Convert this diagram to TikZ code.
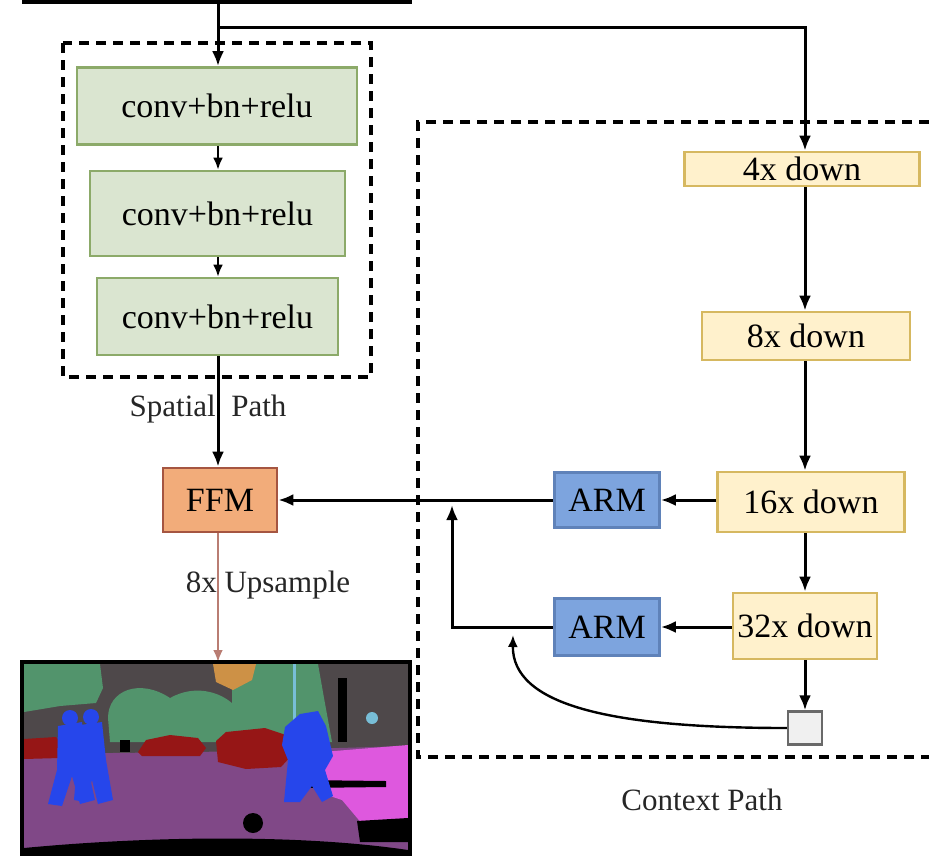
\documentclass[tikz,border=0pt]{standalone}
\usepackage{fontspec}
\setmainfont{LiberationSerif}[Extension=.ttf, UprightFont=*-Regular, BoldFont=*-Bold]
\usetikzlibrary{arrows.meta}

\definecolor{convfill}{RGB}{218,229,208}
\definecolor{convline}{RGB}{140,170,105}
\definecolor{downfill}{RGB}{255,241,204}
\definecolor{downline}{RGB}{214,184,96}
\definecolor{armfill}{RGB}{125,164,222}
\definecolor{armline}{RGB}{95,130,185}
\definecolor{ffmfill}{RGB}{242,172,122}
\definecolor{ffmline}{RGB}{165,85,65}
\definecolor{upline}{RGB}{185,125,115}
\definecolor{poolfill}{RGB}{240,240,240}
\definecolor{poolline}{RGB}{105,105,105}
% label colours of the segmentation map
\definecolor{segsky}{RGB}{78,72,74}
\definecolor{segtree}{RGB}{82,148,108}
\definecolor{segsun}{RGB}{205,145,70}
\definecolor{segroad}{RGB}{128,72,135}
\definecolor{segwalk}{RGB}{222,88,222}
\definecolor{segcar}{RGB}{150,22,22}
\definecolor{segman}{RGB}{38,70,235}
\definecolor{segpole}{RGB}{120,190,215}

\tikzset{
  block/.style={draw, line width=2.6pt, inner sep=0pt, font=\fontsize{34}{40}\selectfont},
  convbox/.style={block, fill=convfill, draw=convline},
  downbox/.style={block, fill=downfill, draw=downline},
  armbox/.style={block, fill=armfill, draw=armline},
  ffmbox/.style={block, fill=ffmfill, draw=ffmline},
  flow/.style={-{Latex[length=15pt,width=12pt]}, line width=3pt},
  thinflow/.style={-{Latex[length=12pt,width=10pt]}, line width=2.4pt},
  pathbox/.style={dash pattern=on 10pt off 7pt, line width=3.4pt},
  caption/.style={font=\fontsize{31}{36}\selectfont, text=black!85}
}

\begin{document}
\begin{tikzpicture}[x=1pt, y=-1pt]
\useasboundingbox (0,0) rectangle (929,855);

% spatial path
\draw[pathbox] (63,43) rectangle (371,377);
\node[convbox, minimum width=280pt, minimum height=77pt] (conv1) at (217,106) {conv+bn+relu};
\node[convbox, minimum width=255pt, minimum height=85pt] (conv2) at (217.5,213.5) {conv+bn+relu};
\node[convbox, minimum width=241pt, minimum height=77pt] (conv3) at (217.5,316.5) {conv+bn+relu};
\node[caption] (spatial) at (208,409) {Spatial\ \ Path};
\node[ffmbox, minimum width=114pt, minimum height=64pt] (ffm) at (220,500) {FFM};
\node[caption] (upsample) at (268,585) {8x Upsample};

% context path
\draw[pathbox] (929,122) -- (418,122) -- (418,757) -- (929,757);
\node[downbox, minimum width=235pt, minimum height=34pt] (down4) at (802,169) {4x down};
\node[downbox, minimum width=208pt, minimum height=48pt] (down8) at (806,336) {8x down};
\node[downbox, minimum width=187pt, minimum height=60pt] (down16) at (811,502) {16x down};
\node[downbox, minimum width=144pt, minimum height=66pt] (down32) at (805,626) {32x down};
\node[armbox, minimum width=105pt, minimum height=55pt] (arm1) at (607,500) {ARM};
\node[armbox, minimum width=105pt, minimum height=57pt] (arm2) at (607,627) {ARM};
\node[draw=poolline, fill=poolfill, line width=2.4pt, minimum width=34pt, minimum height=33pt, inner sep=0pt] (pool) at (805,728) {};
\node[caption] (context) at (702,800) {Context Path};

\coordinate (input) at (218,0);
\coordinate (split) at (218,27);
\coordinate (ctx) at (805,0);
\coordinate (sp) at (218,0);
\coordinate (merge) at (452,627);
\coordinate (sum) at (452,505);
\coordinate (tail) at (513,635);

% input
\draw[line width=3.4pt] (22,2) -- (412,2);
\draw[flow] (input) -- (conv1.north -| sp);
\draw[flow] (split) -| (down4.north -| ctx);

\draw[thinflow] (conv1.south -| sp) -- (conv2.north -| sp);
\draw[thinflow] (conv2.south -| sp) -- (conv3.north -| sp);
\draw[flow] (conv3.south -| sp) -- (ffm.north -| sp);

\draw[flow] (down4.south -| ctx) -- (down8.north -| ctx);
\draw[flow] (down8.south -| ctx) -- (down16.north -| ctx);
\draw[flow] (down16.south -| ctx) -- (down32.north -| ctx);
\draw[flow] (down32.south -| ctx) -- (pool.north);

\draw[flow] (down16.west |- arm1) -- (arm1.east);
\draw[flow] (arm1.west) -- (ffm.east);
\draw[flow] (down32.west |- arm2) -- (arm2.east);
\draw[flow] (arm2.west) -- (merge) -- (sum);
\draw[thinflow] (pool.west) .. controls (610,728) and (512,705) .. (tail);

\draw[thinflow, draw=upline, fill=upline] (ffm.south -| sp) -- (218,662);

% segmentation map
\begin{scope}
\clip (24,664) rectangle (408,855);
\fill[segsky] (24,664) rectangle (408,855);
\fill[segtree] (24,664) -- (100,664) -- (103,688) -- (96,703) -- (60,706) -- (24,712) -- cycle;
\fill[segtree] (108,718) .. controls (108,690) and (140,678) .. (170,698) .. controls (195,684) and (220,692) .. (233,704) -- (236,742) -- (110,742) -- cycle;
\fill[segtree] (232,664) -- (318,664) -- (324,698) -- (332,742) -- (232,744) -- cycle;
\fill[segsun] (213,664) -- (256,664) -- (252,680) -- (233,690) -- (216,682) -- cycle;
\fill[segroad] (24,754) -- (200,752) -- (408,746) -- (408,855) -- (24,855) -- cycle;
\fill[segwalk] (322,752) -- (408,745) -- (408,838) -- (374,838) -- (342,800) -- (318,792) -- cycle;
\fill[black] (300,780) -- (386,781) -- (386,787) -- (300,788) -- cycle;
\fill[black] (357,821) -- (408,818) -- (408,842) -- (360,842) -- cycle;
\fill[segcar] (24,739) -- (56,737) -- (63,746) -- (60,758) -- (24,759) -- cycle;
\fill[segcar] (138,752) -- (146,740) -- (170,735) -- (198,738) -- (206,748) -- (200,756) -- (142,756) -- cycle;
\fill[segcar] (216,741) -- (226,732) -- (265,728) -- (286,735) -- (292,755) -- (281,767) -- (246,769) -- (218,762) -- cycle;
\fill[black] (338,678) rectangle (347,742);
\fill[black] (120,740) rectangle (130,752);
\fill[segpole] (293,664) rectangle (296,742);
\fill[segpole] (372,718) circle (6pt);
% pedestrians
\fill[segman] (70,718) circle (8pt);
\fill[segman] (58,726) -- (82,722) -- (86,760) -- (95,800) -- (80,804) -- (72,776) -- (62,806) -- (48,804) -- (57,770) -- cycle;
\fill[segman] (91,717) circle (8pt);
\fill[segman] (80,725) -- (102,722) -- (106,760) -- (113,800) -- (98,804) -- (92,780) -- (85,802) -- (74,800) -- cycle;
\fill[segman] (285,727) -- (300,714) -- (318,711) -- (326,726) -- (333,756) -- (325,770) -- (333,796) -- (322,802) -- (312,786) -- (300,802) -- (284,802) -- (288,760) -- (282,745) -- cycle;
% ego car
\fill[black] (24,855) -- (24,848) .. controls (150,836) and (300,834) .. (408,850) -- (408,855) -- cycle;
\fill[black] (253,823) circle (10pt);
\end{scope}
\draw[line width=3.4pt] (22,662) rectangle (410,857);

\end{tikzpicture}
\end{document}
